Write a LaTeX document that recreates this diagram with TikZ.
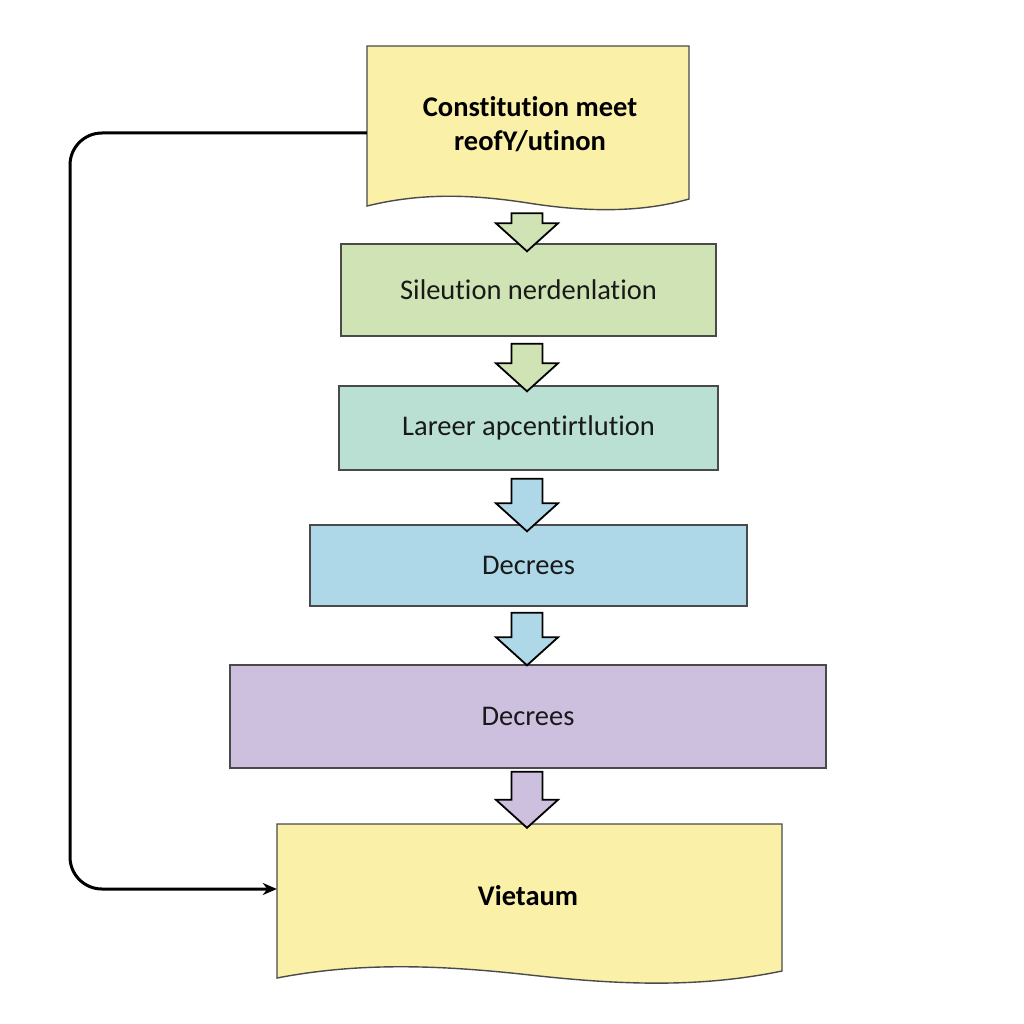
\documentclass[tikz,border=0pt]{standalone}
\usepackage{fontspec}
\setmainfont{Carlito}[Ligatures=NoCommon]
\usetikzlibrary{calc,arrows.meta}
\definecolor{docyel}{HTML}{FAF0A8}
\definecolor{bgreen}{HTML}{CFE3B4}
\definecolor{bteal}{HTML}{B9E0D3}
\definecolor{bblue}{HTML}{AED8E8}
\definecolor{bpurp}{HTML}{CDBFDE}
\definecolor{edge}{HTML}{4A4A4A}
\tikzset{
  boxstyle/.style={draw=edge, line width=1.4pt, inner sep=0pt, font=\fontsize{28.5}{34}\selectfont, text=black!90},
  docshape/.style={draw=edge, line width=1.4pt, fill=docyel},
  doctext/.style={inner sep=0pt, align=center, font=\bfseries\fontsize{28.5}{34}\selectfont},
  blkarrow/.style={draw=black, line width=1.8pt, line join=miter},
  conn/.style={draw=black, line width=3pt, rounded corners=32pt, -{Stealth[length=14pt,width=12pt]}}
}
\newcommand\downblock[5]{% color, from, to, top gap, tip gap
  \draw[blkarrow, fill=#1] let \p1=(#2.south), \p2=(#3.north) in
    (511.5pt,\y1-#4pt) -- (542.5pt,\y1-#4pt) -- (542.5pt,\y2-#5pt+28pt) -- (558pt,\y2-#5pt+28pt)
    -- (527pt,\y2-#5pt) -- (496pt,\y2-#5pt+28pt) -- (511.5pt,\y2-#5pt+28pt) -- cycle;}
\begin{document}
\begin{tikzpicture}[x=1pt,y=-1pt]
\useasboundingbox[fill=white] (0,0) rectangle (1024,1024);
% document shapes
\path[docshape] (367,46) -- (689,46) -- (689,199) .. controls (640,213) and (585,212) .. (528,203) .. controls (470,194) and (420,193) .. (367,206) -- cycle;
\path[docshape] (277,824) -- (782,824) -- (782,971) .. controls (700,988) and (620,985) .. (530,975) .. controls (440,965) and (360,962) .. (277,978) -- cycle;
\node[minimum width=322pt, minimum height=160pt, inner sep=0pt] (doc1) at (528,126) {};
\node[doctext] (t1) at (530,124) {Constitution meet\\reofY/utinon};
\node[minimum width=505pt, minimum height=154pt, inner sep=0pt] (doc6) at (529.5,901) {};
\node[doctext] (t6) at (528,896) {Vietaum};
% boxes
\node[boxstyle, fill=bgreen, minimum width=375pt, minimum height=92pt] (b2) at (528.5,290) {Sileution nerdenlation};
\node[boxstyle, fill=bteal, minimum width=379pt, minimum height=84pt] (b3) at (528.5,428) {Lareer apcentirtlution};
\node[boxstyle, fill=bblue, minimum width=437pt, minimum height=81pt] (b4) at (528.5,565.5) {Decrees};
\node[boxstyle, fill=bpurp, minimum width=596pt, minimum height=103pt] (b5) at (528,716.5) {Decrees};
% block arrows
\downblock{bgreen}{doc1}{b2}{7}{8}
\downblock{bgreen}{b2}{b3}{7}{6}
\downblock{bblue}{b3}{b4}{8}{7}
\downblock{bblue}{b4}{b5}{6}{1}
\downblock{bpurp}{b5}{doc6}{3}{4}
% feedback connector
\draw[conn] ([yshift=-7pt]doc1.west) -- (70,133) -- (70,889) -- ([yshift=12pt]doc6.west);
\end{tikzpicture}
\end{document}
